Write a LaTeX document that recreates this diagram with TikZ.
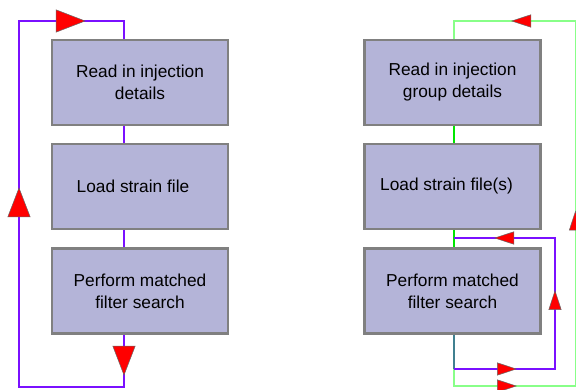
\documentclass[tikz,border=0pt]{standalone}
\usepackage{fontspec}
\setmainfont{Liberation Sans}
\usetikzlibrary{arrows.meta,decorations.markings}

\definecolor{boxfill}{RGB}{180,180,216}
\definecolor{boxline}{RGB}{128,128,128}
\definecolor{loopviolet}{RGB}{122,16,255}
\definecolor{loopgreen}{RGB}{0,230,0}
\definecolor{looplight}{RGB}{136,255,136}
\definecolor{loopteal}{RGB}{64,128,144}

\tikzset{
  bigtri/.tip={Triangle[length=30pt,width=23pt,color=black!60,fill=red,line width=0.5pt]},
  smalltri/.tip={Triangle[length=20pt,width=13pt,color=black!60,fill=red,line width=0.5pt]},
}

\begin{document}
\begin{tikzpicture}[x=1pt,y=-1pt,
    stage/.style={draw=boxline,fill=boxfill,line width=2.5pt,minimum width=176pt,
      minimum height=85pt,inner sep=0pt,align=center,
      font=\fontsize{17.3}{22}\selectfont},
    violetline/.style={draw=loopviolet,line width=2.3pt},
    greenline/.style={draw=loopgreen,line width=2.6pt},
    lightline/.style={draw=looplight,line width=1.8pt},
    tealline/.style={draw=loopteal,line width=2.2pt}]
      \useasboundingbox (0,0) rectangle (576,390);
      % left loop
      \coordinate (LT) at (124,21);
      \coordinate (LTL) at (19,21);
      \coordinate (LBL) at (19,387);
      \coordinate (LB) at (124,387);
      \node[stage] (read) at (140,82.5) {Read in injection\\details};
      \node[stage] (load) at (140,186.5) {Load strain file\hspace{14pt}};
      \node[stage] (search) at (140,291) {Perform matched\\filter search};
      \draw[violetline] (read.south -| LT) -- (load.north -| LT);
      \draw[violetline] (load.south -| LT) -- (search.north -| LT);
      \draw[violetline,postaction={decorate},decoration={markings,
          mark=at position 41pt with {\arrow{bigtri}},
          mark=at position 357pt with {\arrow{bigtri}},
          mark=at position 590pt with {\arrow{bigtri}}}]
        (search.south -| LT) -- (LB) -- (LBL) -- (LTL) -- (LT) -- (read.north -| LT);
      % right loops
      \coordinate (RT) at (454,21);
      \coordinate (RTR) at (575.5,21);
      \coordinate (RBR) at (575.5,386);
      \coordinate (RB) at (454,386);
      \coordinate (RJ) at (454,369);
      \coordinate (RJR) at (555,369);
      \coordinate (RUR) at (555,238);
      \coordinate (RU) at (454,238);
      \node[stage] (read2) at (452.5,82.5) {Read in injection\\group details};
      \node[stage] (load2) at (452.5,186.5) {Load strain file(s)\hspace{12pt}};
      \node[stage] (search2) at (452.5,291) {Perform matched\\filter search};
      \draw[greenline] (read2.south -| RT) -- (load2.north -| RT);
      \draw[greenline] (load2.south -| RT) -- (search2.north -| RT);
      \draw[tealline] (search2.south -| RT) -- (RJ);
      \draw[lightline,postaction={decorate},decoration={markings,
          mark=at position 80pt with {\arrow{smalltri}},
          mark=at position 314pt with {\arrow{smalltri}},
          mark=at position 568pt with {\arrow{smalltri}}}]
        (RJ) -- (RB) -- (RBR) -- (RTR) -- (RT) -- (read2.north -| RT);
      \draw[violetline,postaction={decorate},decoration={markings,
          mark=at position 63pt with {\arrow{smalltri}},
          mark=at position 180pt with {\arrow{smalltri}},
          mark=at position 293pt with {\arrow{smalltri}}}]
        (RJ) -- (RJR) -- (RUR) -- (RU);
    \end{tikzpicture}
\end{document}
